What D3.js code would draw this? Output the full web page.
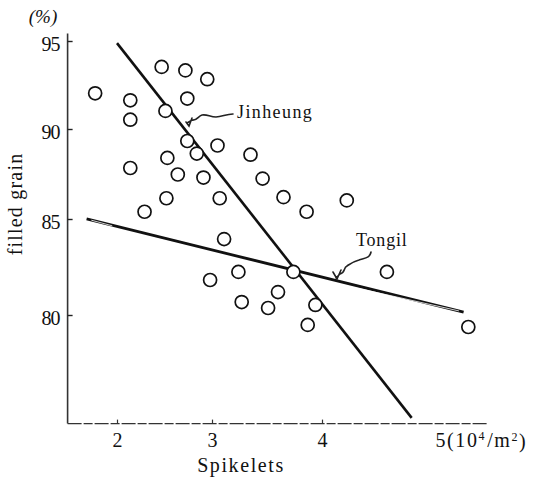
<!DOCTYPE html>
<html>
<head>
<meta charset="utf-8">
<script src="https://cdn.jsdelivr.net/npm/d3@7/dist/d3.min.js"></script>
<style>
  html, body { margin: 0; padding: 0; background: #fff; }
  svg { display: block; }
  text { font-family: "Liberation Serif", "DejaVu Serif", serif; fill: #111; }
</style>
</head>
<body>
<svg id="chart" width="538" height="484"></svg>
<script>
// Spikelet density (10^4 / m^2) of each plot
const spikelets = [
  1.77, 2.14, 2.14, 2.47, 2.72, 2.95, 2.74, 2.51, 2.74, 2.84,
  3.05, 2.14, 2.53, 2.64, 2.91, 3.35, 3.46, 3.65, 3.86, 4.21,
  2.52, 3.07, 2.29, 3.11, 3.24, 2.98, 3.27, 3.51, 3.60, 3.94,
  3.87, 4.55, 5.24, 3.74
];
// Percentage of filled grain of each plot
const filledGrain = [
  92.2, 91.8, 90.7, 93.7, 93.5, 93.0, 91.9, 91.2, 89.5, 88.8,
  89.25, 88.0, 88.56, 87.64, 87.47, 88.74, 87.41, 86.38, 85.57, 86.2,
  86.32, 86.32, 85.57, 84.11, 82.4, 81.98, 80.83, 80.52, 81.35, 80.68,
  79.64, 82.4, 79.53, 82.4
];

// Fitted regression lines: [x, y] at each end
const varieties = ["Jinheung", "Tongil"];
const jinheungLine = [[2.0, 95.05], [4.76, 74.8]];
const tongilLine = [[1.68, 85.17], [5.20, 80.31]];

const xTicks = [2, 3, 4, 5];
const yTicks = [80, 85, 90, 95];
const xTitle = "Spikelets";
const yTitle = "filled grain";
const yUnit = "(%)";

const svg = d3.select("#chart");

// The printed axes are not evenly spaced, so each tick interval gets its own span
const x = d3.scaleLinear().domain(xTicks).range([117, 212, 322, 440]);
const y = d3.scaleLinear().domain([95, 90, 85, 80]).range([44, 132, 222, 318]);

const x0 = x(1.48), x1 = x(5.41);
const yTop = y(95.6), yBot = y(74.5);

// axis lines
const axisG = svg.append("g").attr("stroke", "#333").attr("fill", "none");
axisG.append("line")
  .attr("x1", x0).attr("x2", x0).attr("y1", yTop).attr("y2", yBot)
  .attr("stroke-width", 1.6);
axisG.append("line")
  .attr("x1", x0).attr("x2", x1).attr("y1", yBot).attr("y2", yBot)
  .attr("stroke-width", 1.4).attr("stroke-dasharray", "14 2 9 2");

// y axis ticks and labels
const yAxis = d3.axisLeft(y).tickValues(yTicks).tickFormat(d3.format("d"))
  .tickSizeInner(-5).tickSizeOuter(0).tickPadding(8);
const yG = svg.append("g").attr("transform", `translate(${x0},0)`).call(yAxis);
yG.select(".domain").remove();
yG.selectAll(".tick line").attr("stroke", "#222").attr("stroke-width", 1.4).attr("transform", "translate(0,-3)");
yG.selectAll(".tick text")
  .attr("font-family", "Liberation Serif, serif")
  .attr("font-size", 20).attr("fill", "#111").attr("letter-spacing", "-1");

// x axis ticks and labels
const xAxis = d3.axisBottom(x).tickValues(xTicks).tickFormat(d3.format("d"))
  .tickSizeInner(-4).tickSizeOuter(0).tickPadding(9);
const xG = svg.append("g").attr("transform", `translate(0,${yBot})`).call(xAxis);
xG.select(".domain").remove();
xG.selectAll(".tick line").attr("stroke", "#333").attr("stroke-width", 1.2)
  .attr("opacity", d => d === 5 ? 0 : 1);
xG.selectAll(".tick text")
  .attr("font-family", "Liberation Serif, serif")
  .attr("font-size", 20).attr("fill", "#111");

// the last tick carries the unit
const lastTick = xG.selectAll(".tick text").filter(d => d === 5);
lastTick.text(null).attr("text-anchor", "start").attr("x", -5).attr("letter-spacing", "1.6");
lastTick.append("tspan").text("5(10");
lastTick.append("tspan").text("4").attr("font-size", 12).attr("dy", "-0.55em");
lastTick.append("tspan").text("/m").attr("dy", "0.36em").attr("dx", 1);
lastTick.append("tspan").text("2").attr("font-size", 12).attr("dy", "-0.55em");
lastTick.append("tspan").text(")").attr("dy", "0.36em");

// axis titles
svg.append("text")
  .attr("x", 241).attr("y", 472)
  .attr("text-anchor", "middle").attr("font-size", 20)
  .attr("letter-spacing", "1.6")
  .text(xTitle);
svg.append("text")
  .attr("transform", "translate(22,204) rotate(-90)")
  .attr("text-anchor", "middle").attr("font-size", 20)
  .attr("letter-spacing", "1.2")
  .text(yTitle);
svg.append("text")
  .attr("x", 43).attr("y", 23)
  .attr("text-anchor", "middle").attr("font-size", 19)
  .attr("font-style", "italic")
  .text(yUnit);

// regression lines
const lineGen = d3.line().x(d => x(d[0])).y(d => y(d[1]));
svg.append("path").datum(jinheungLine)
  .attr("d", lineGen).attr("fill", "none")
  .attr("stroke", "#111").attr("stroke-width", 2.6);
svg.append("path").datum(tongilLine)
  .attr("d", lineGen).attr("fill", "none")
  .attr("stroke", "#111").attr("stroke-width", 2.8);
// the lighter core of the Tongil line
svg.append("path").datum([[tongilLine[0][0] + 0.05, tongilLine[0][1] - 0.07], [1.95, 84.8]])
  .attr("d", lineGen).attr("fill", "none")
  .attr("stroke", "#fff").attr("stroke-width", 0.8);
svg.append("path").datum([[4.3, 81.55], [tongilLine[1][0] - 0.04, tongilLine[1][1] + 0.06]])
  .attr("d", lineGen).attr("fill", "none")
  .attr("stroke", "#fff").attr("stroke-width", 0.8);

// data points
svg.append("g").selectAll("circle")
  .data(spikelets.map((s, i) => [s, filledGrain[i]]))
  .join("circle")
  .attr("cx", d => x(d[0])).attr("cy", d => y(d[1]))
  .attr("r", 6.5)
  .attr("fill", "#fff").attr("stroke", "#111").attr("stroke-width", 1.7);

// variety labels with curly leaders pointing at their lines
const labelPos = { Jinheung: [237, 118], Tongil: [356, 246] };
svg.append("text")
  .attr("x", labelPos.Jinheung[0]).attr("y", labelPos.Jinheung[1])
  .attr("font-size", 18).attr("letter-spacing", "1.4")
  .text(varieties[0]);
svg.append("text")
  .attr("x", labelPos.Tongil[0]).attr("y", labelPos.Tongil[1])
  .attr("font-size", 18).attr("letter-spacing", "0.8")
  .text(varieties[1]);

const leader = svg.append("g").attr("fill", "none").attr("stroke", "#222").attr("stroke-width", 1.6)
  .attr("stroke-linecap", "round");
// Jinheung leader: wavy line ending in a small hook on the fitted line
leader.append("path")
  .attr("d", "M233,114 C226,114 222,117 216,117 C210,117 207,114 202,115 C198,116 197,121 192,120 L187,123 M192,118 L189,126 L186,122");
// Tongil leader
leader.append("path")
  .attr("d", "M371,252 C370,258 365,258 359,260 C352,262 350,264 347,266 C343,268 346,272 340,274 L336,278 M341,270 L337,279 L333,272");
</script>
</body>
</html>
